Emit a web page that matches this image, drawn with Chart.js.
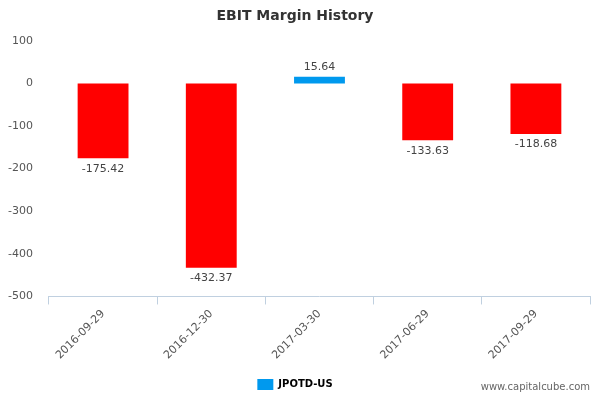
<!DOCTYPE html>
<html><head><meta charset="utf-8">
<script src="https://cdn.jsdelivr.net/npm/chart.js"></script>
<style>body{margin:0;background:#fff}#w{width:600px;height:400px;position:relative}
#wm{position:absolute;right:10px;bottom:8px;font:10px "DejaVu Sans",sans-serif;color:#666}</style>
</head><body><div id="w"><canvas id="c" width="600" height="400"></canvas><div id="wm">www.capitalcube.com</div></div>
<script>
const categories=["2016-09-29","2016-12-30","2017-03-30","2017-06-29","2017-09-29"];
const values=[-175.42,-432.37,15.64,-133.63,-118.68];
const seriesName="JPOTD-US";
const yTicks=[100,0,-100,-200,-300,-400,-500];
const labelPlugin={id:'lbl',afterDatasetsDraw(chart){
 const ctx=chart.ctx;const meta=chart.getDatasetMeta(0);
 ctx.save();ctx.font='11px "DejaVu Sans"';ctx.fillStyle='#444';ctx.textAlign='center';
 meta.data.forEach((b,i)=>{const v=values[i];
  if(v>=0){ctx.textBaseline='bottom';ctx.fillText(v.toFixed(2),b.x,b.y-4);}
  else{ctx.textBaseline='top';ctx.fillText(v.toFixed(2),b.x,b.y+5);}});
 ctx.restore();}};
new Chart(document.getElementById('c'),{type:'bar',
 data:{labels:categories,datasets:[{label:seriesName,data:values,
  backgroundColor:values.map(v=>v>=0?'#0099ee':'#ff0000'),barPercentage:0.47,categoryPercentage:1}]},
 options:{responsive:false,animation:false,
  layout:{padding:{left:0,right:10,top:0,bottom:0}},
  plugins:{title:{display:true,text:'EBIT Margin History',color:'#333',font:{family:'DejaVu Sans',size:14,weight:'bold'},padding:{top:8,bottom:16}},
   legend:{position:'bottom',labels:{generateLabels:()=>[{text:seriesName,fillStyle:'#0099ee',strokeStyle:'#0099ee',lineWidth:0}],boxWidth:16,boxHeight:11,color:'#333',font:{family:'DejaVu Sans',size:10,weight:'bold'},padding:14}},
   tooltip:{enabled:false}},
  scales:{
   x:{grid:{display:true,drawOnChartArea:false,offset:true,color:'#c0d0e0',tickLength:8},border:{color:'#c0d0e0'},
      ticks:{maxRotation:45,minRotation:45,color:'#555',font:{family:'DejaVu Sans',size:11}}},
   y:{min:-500,max:100,afterBuildTicks:a=>{a.ticks=yTicks.map(v=>({value:v}));},
      grid:{display:false},border:{display:false},
      ticks:{color:'#555',font:{family:'DejaVu Sans',size:11},padding:8}}}},
 plugins:[labelPlugin]});
</script></body></html>
